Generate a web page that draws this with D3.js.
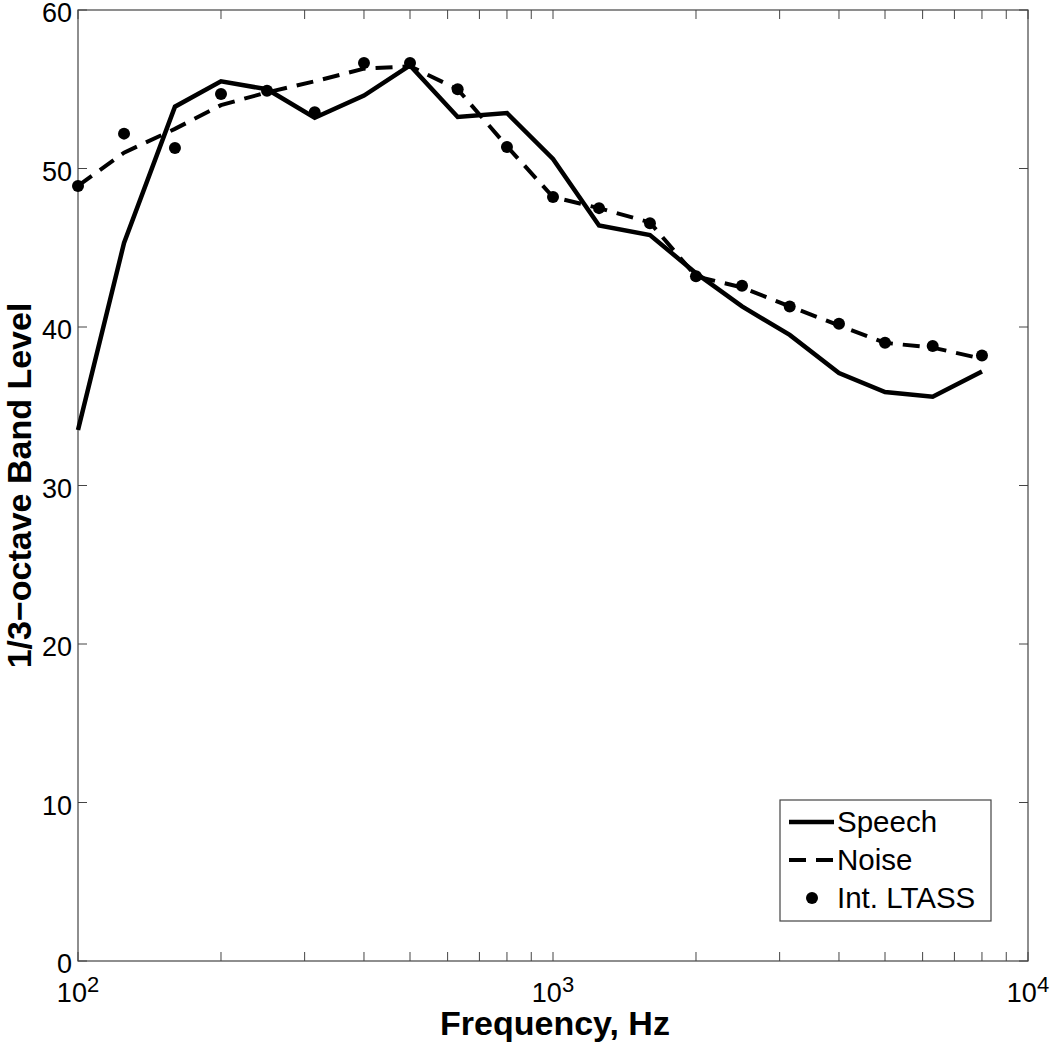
<!DOCTYPE html>
<html>
<head>
<meta charset="utf-8">
<script src="https://cdn.jsdelivr.net/npm/d3@7"></script>
<style>
  body { margin: 0; background: #fff; }
  svg { font-family: "Liberation Sans", Arial, sans-serif; }
</style>
</head>
<body>
<div id="chart"></div>
<script>
// 1/3-octave centre frequencies (Hz)
const freqs = [100, 125, 160, 200, 250, 315, 400, 500, 630, 800, 1000, 1250, 1600, 2000, 2500, 3150, 4000, 5000, 6300, 8000];
const speech = [33.5, 45.3, 53.9, 55.5, 55.0, 53.2, 54.6, 56.5, 53.25, 53.5, 50.6, 46.4, 45.8, 43.4, 41.3, 39.5, 37.1, 35.9, 35.6, 37.2];
const noise = [48.9, 51.0, 52.5, 54.0, 54.8, 55.5, 56.3, 56.45, 55.0, 51.4, 48.2, 47.5, 46.6, 43.2, 42.5, 41.3, 40.1, 39.0, 38.7, 38.0];
const ltass = [48.9, 52.2, 51.3, 54.7, 54.9, 53.55, 56.65, 56.65, 55.0, 51.35, 48.2, 47.5, 46.55, 43.2, 42.6, 41.3, 40.2, 39.0, 38.8, 38.2];
const yTicks = [0, 10, 20, 30, 40, 50, 60];
const xMajor = [100, 1000, 10000];
const legendItems = ["Speech", "Noise", "Int. LTASS"];

const W = 1050, H = 1043;
const margin = { top: 10, right: 22, bottom: 82, left: 78 };
const width = W - margin.left - margin.right;
const height = H - margin.top - margin.bottom;
const axisColor = "#444";

const svg = d3.select("#chart").append("svg")
  .attr("width", W).attr("height", H);
const g = svg.append("g").attr("transform", `translate(${margin.left},${margin.top})`);

const x = d3.scaleLog().domain([100, 10000]).range([0, width]);
const y = d3.scaleLinear().domain([0, 60]).range([height, 0]);

// minor ticks 2..9 per decade
const xMinor = [];
[100, 1000].forEach(d => { for (let k = 2; k <= 9; k++) xMinor.push(d * k); });

const tickLen = 9;
const ticks = g.append("g").attr("stroke", axisColor).attr("stroke-width", 1);
xMajor.concat(xMinor).forEach(v => {
  ticks.append("line").attr("x1", x(v)).attr("x2", x(v)).attr("y1", height).attr("y2", height - tickLen);
  ticks.append("line").attr("x1", x(v)).attr("x2", x(v)).attr("y1", 0).attr("y2", tickLen);
});
yTicks.forEach(v => {
  ticks.append("line").attr("x1", 0).attr("x2", tickLen).attr("y1", y(v)).attr("y2", y(v));
  ticks.append("line").attr("x1", width).attr("x2", width - tickLen).attr("y1", y(v)).attr("y2", y(v));
});

// frame
g.append("rect").attr("width", width).attr("height", height)
  .attr("fill", "none").attr("stroke", axisColor).attr("stroke-width", 1.2);

// y tick labels
g.selectAll(".ylab").data(yTicks).enter().append("text")
  .attr("x", -6).attr("y", d => y(d) + 12)
  .attr("text-anchor", "end").attr("font-size", 27).attr("fill", "#000")
  .text(d => d);

// x tick labels 10^n
xMajor.forEach(v => {
  const t = g.append("text").attr("x", x(v)).attr("y", height + 41)
    .attr("text-anchor", "middle").attr("font-size", 27).attr("fill", "#000");
  t.append("tspan").text("10");
  t.append("tspan").attr("dy", -10).attr("font-size", 22).text(Math.round(Math.log10(v)));
});

// axis titles
g.append("text").attr("x", width / 2 + 2).attr("y", height + 74)
  .attr("text-anchor", "middle").attr("font-size", 34).attr("font-weight", "bold")
  .text("Frequency, Hz");
g.append("text").attr("transform", `translate(${-47},${height / 2}) rotate(-90)`)
  .attr("text-anchor", "middle").attr("font-size", 34).attr("font-weight", "bold")
  .text("1/3\u2212octave Band Level");

const line = d3.line().x(d => x(d[0])).y(d => y(d[1]));
const plot = g.append("g");

plot.append("path").datum(freqs.map((f, i) => [f, noise[i]]))
  .attr("fill", "none").attr("stroke", "#000").attr("stroke-width", 4)
  .attr("stroke-dasharray", "17,10").attr("d", line);

plot.append("path").datum(freqs.map((f, i) => [f, speech[i]]))
  .attr("fill", "none").attr("stroke", "#000").attr("stroke-width", 4.5)
  .attr("stroke-linejoin", "miter").attr("d", line);

plot.selectAll("circle").data(freqs.map((f, i) => [f, ltass[i]])).enter().append("circle")
  .attr("cx", d => x(d[0])).attr("cy", d => y(d[1])).attr("r", 6).attr("fill", "#000");

// legend
const lg = svg.append("g").attr("transform", "translate(780,800)");
lg.append("rect").attr("width", 211).attr("height", 121)
  .attr("fill", "#fff").attr("stroke", axisColor).attr("stroke-width", 1.2);
const rowY = [22, 60, 98];
lg.append("line").attr("x1", 9).attr("x2", 54).attr("y1", rowY[0]).attr("y2", rowY[0])
  .attr("stroke", "#000").attr("stroke-width", 4.5);
lg.append("line").attr("x1", 9).attr("x2", 54).attr("y1", rowY[1]).attr("y2", rowY[1])
  .attr("stroke", "#000").attr("stroke-width", 4).attr("stroke-dasharray", "17,10");
lg.append("circle").attr("cx", 32).attr("cy", rowY[2]).attr("r", 6).attr("fill", "#000");
legendItems.forEach((t, i) => {
  lg.append("text").attr("x", 57).attr("y", rowY[i] + 10)
    .attr("font-size", 29.5).attr("fill", "#000").text(t);
});
</script>
</body>
</html>
